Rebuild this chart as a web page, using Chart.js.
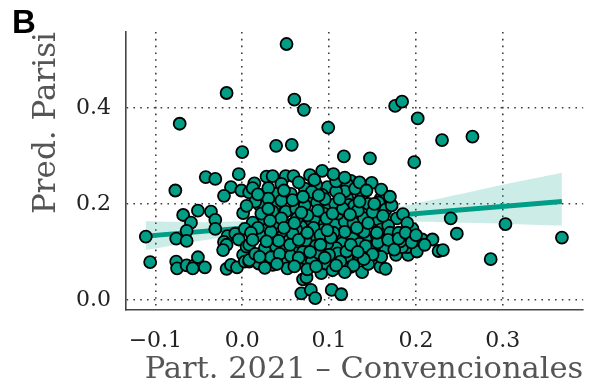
<!DOCTYPE html>
<html>
<head>
<meta charset="utf-8">
<script src="https://cdn.jsdelivr.net/npm/chart.js@4.4.1/dist/chart.umd.min.js"></script>
<style>
  html, body { margin: 0; padding: 0; background: #ffffff; }
  #c { display: block; }
</style>
</head>
<body>
<canvas id="c" width="591" height="389"></canvas>
<script>
// Municipal scatter: 2021 conventional-candidate turnout vs predicted Parisi vote
const partX = [
  // upper scatter
  0.051, -0.018, -0.072, 0.060, 0.071, 0.099, 0.176, 0.184, 0.202, 0.230, 0.265, 0.000, 0.039, 0.057, 0.117, 0.147, 0.198,
  // left group
  -0.042, -0.031, -0.077, -0.004, -0.013, -0.021, -0.001, 0.008,
  -0.068, -0.051, -0.036, -0.059, -0.031, -0.031, 0.001,
  -0.064, -0.111, -0.076, -0.064, -0.017, -0.008, -0.004, -0.021, -0.018, -0.022, 0.001, 0.005,
  -0.106, -0.076, -0.075, -0.064, -0.055, -0.051, -0.057, -0.043, -0.018, -0.013, -0.006, 0.003,
  // lower middle
  0.008, 0.019, 0.026, 0.033, 0.035, 0.054, 0.062, 0.071, 0.070, 0.074, 0.068, 0.079, 0.084, 0.103, 0.114, 0.083, 0.091, 0.100, 0.125, 0.091,
  // lower right
  0.138, 0.159, 0.165, 0.153, 0.177, 0.191, 0.190, 0.201, 0.226, 0.231, 0.286, 0.130, 0.148, 0.173, 0.184,
  // far right
  0.240, 0.247, 0.303, 0.368,
  // core, right half
  0.125, 0.121, 0.149, 0.138, 0.137, 0.121, 0.159, 0.157, 0.123, 0.129, 0.145, 0.114, 0.129, 0.178, 0.185, 0.138,
  0.150, 0.157, 0.121, 0.196, 0.131, 0.161, 0.150, 0.142, 0.171, 0.182, 0.207, 0.219, 0.165, 0.150, 0.127, 0.115,
  // core, left half
  0.028, 0.035, 0.050, 0.059, 0.078, 0.092, 0.014, 0.012, 0.026, 0.041, 0.056, 0.098, 0.092, 0.079, 0.066, 0.020,
  0.037, 0.050, 0.035, 0.024, 0.012, 0.039, 0.054, 0.068, 0.085, 0.100, 0.112, 0.100, 0.020, 0.033, 0.047, 0.054,
  0.068, 0.079, 0.089, 0.100, 0.112, 0.115, 0.008, 0.026, 0.039, 0.050, 0.064, 0.077, 0.092, 0.108, 0.008, 0.033,
  0.047, 0.071, 0.096, 0.106, 0.119,
  // core, packed
  0.062, 0.072, 0.086, 0.094, 0.107, 0.118, 0.108, 0.087, 0.075, 0.063, 0.095, 0.107, 0.118, 0.128, 0.140, 0.133,
  0.145, 0.140, 0.127, 0.118, 0.105, 0.093, 0.083, 0.073, 0.062, 0.060, 0.070, 0.085, 0.098, 0.110, 0.121, 0.135,
  0.143, 0.156, 0.160, 0.168, 0.170, 0.165, 0.172, 0.150, 0.108, 0.085, 0.072, 0.065, 0.045, 0.030, 0.045, 0.030,
  0.015, 0.005, 0.018, 0.003, 0.045, 0.058, 0.042, 0.028, 0.015, 0.043, 0.056, 0.080, 0.113, 0.135, 0.120, 0.100,
  0.088, 0.075, 0.104, 0.052, 0.026, 0.145, 0.160, 0.180, 0.190, 0.130, 0.110, 0.095, 0.080, 0.058,
  0.010, 0.022, 0.032, 0.048, 0.060, 0.068, 0.082, 0.090, 0.097, 0.104, 0.116, 0.124, 0.132, 0.142, 0.150, 0.155,
  0.162, 0.168, 0.175, 0.180, 0.188, 0.195, 0.200, 0.210, 0.140, 0.128, 0.118, 0.108, 0.095, 0.085, 0.065, 0.040,
  0.020, 0.012, 0.055, 0.065, 0.078, 0.090, 0.102, 0.125, 0.133, 0.145, 0.152, 0.135, 0.112, 0.088, 0.070, 0.048,
  0.030, 0.018, 0.105, 0.083, 0.118, 0.135, 0.160, 0.170, 0.143, 0.098, 0.075, 0.060
];
const predY = [
  0.533, 0.431, 0.367, 0.417, 0.396, 0.359, 0.404, 0.413, 0.378, 0.333, 0.340, 0.308, 0.321, 0.323, 0.299, 0.295, 0.287,
  0.256, 0.252, 0.228, 0.262, 0.235, 0.217, 0.228, 0.224,
  0.177, 0.186, 0.184, 0.161, 0.167, 0.148, 0.181,
  0.144, 0.132, 0.128, 0.123, 0.133, 0.138, 0.126, 0.121, 0.115, 0.104, 0.094, 0.111,
  0.079, 0.080, 0.066, 0.072, 0.072, 0.089, 0.066, 0.068, 0.065, 0.073, 0.068, 0.080,
  0.080, 0.076, 0.104, 0.087, 0.073, 0.082, 0.076, 0.080, 0.043, 0.047, 0.014, 0.021, 0.004, 0.021, 0.012, 0.094, 0.076, 0.076, 0.069, 0.056,
  0.058, 0.069, 0.065, 0.094, 0.094, 0.094, 0.110, 0.101, 0.102, 0.104, 0.085, 0.083, 0.111, 0.118, 0.110,
  0.170, 0.138, 0.158, 0.130,
  0.248, 0.240, 0.244, 0.226, 0.215, 0.212, 0.210, 0.203, 0.198, 0.196, 0.188, 0.188, 0.174, 0.170, 0.179, 0.156,
  0.163, 0.167, 0.149, 0.148, 0.139, 0.134, 0.128, 0.127, 0.125, 0.122, 0.126, 0.126, 0.108, 0.111, 0.104, 0.115,
  0.257, 0.258, 0.258, 0.258, 0.260, 0.269, 0.243, 0.233, 0.220, 0.222, 0.221, 0.235, 0.219, 0.212, 0.208, 0.198,
  0.194, 0.184, 0.184, 0.170, 0.161, 0.161, 0.156, 0.153, 0.167, 0.191, 0.170, 0.153, 0.135, 0.142, 0.135, 0.124,
  0.135, 0.142, 0.128, 0.125, 0.135, 0.118, 0.115, 0.108, 0.111, 0.104, 0.111, 0.115, 0.104, 0.108, 0.083, 0.089,
  0.083, 0.087, 0.076, 0.090, 0.069,
  0.190, 0.197, 0.203, 0.180, 0.200, 0.226, 0.226, 0.186, 0.176, 0.170, 0.160, 0.157, 0.163, 0.160, 0.170, 0.186,
  0.200, 0.142, 0.128, 0.142, 0.140, 0.146, 0.128, 0.124, 0.147, 0.098, 0.100, 0.113, 0.118, 0.097, 0.092, 0.117,
  0.098, 0.120, 0.147, 0.155, 0.140, 0.188, 0.197, 0.183, 0.247, 0.240, 0.232, 0.245, 0.242, 0.233, 0.207, 0.211,
  0.205, 0.196, 0.150, 0.148, 0.170, 0.138, 0.123, 0.122, 0.096, 0.096, 0.092, 0.080, 0.080, 0.090, 0.101, 0.094,
  0.098, 0.064, 0.062, 0.066, 0.067, 0.075, 0.090, 0.140, 0.160, 0.232, 0.180, 0.210, 0.225, 0.208,
  0.140, 0.180, 0.165, 0.150, 0.160, 0.182, 0.150, 0.135, 0.170, 0.180, 0.190, 0.178, 0.150, 0.112, 0.095, 0.140,
  0.175, 0.125, 0.105, 0.128, 0.140, 0.120, 0.135, 0.115, 0.085, 0.072, 0.058, 0.072, 0.088, 0.070, 0.088, 0.075,
  0.090, 0.125, 0.115, 0.125, 0.100, 0.115, 0.130, 0.115, 0.100, 0.160, 0.200, 0.205, 0.210, 0.218, 0.215, 0.228,
  0.190, 0.220, 0.262, 0.250, 0.255, 0.245, 0.230, 0.215, 0.228, 0.145, 0.140, 0.070
];

// Linear fit and its confidence band
const fitX = [-0.111, 0.368];
const fitY = [0.133, 0.205];
const bandX = [-0.111, -0.05, 0.0, 0.05, 0.09, 0.15, 0.2, 0.25, 0.3, 0.368];
const bandUpper = [0.164, 0.162, 0.164, 0.166, 0.171, 0.184, 0.201, 0.220, 0.240, 0.265];
const bandLower = [0.104, 0.123, 0.136, 0.148, 0.156, 0.161, 0.163, 0.161, 0.159, 0.155];

// Axis ticks
const xTicks = [-0.1, 0.0, 0.1, 0.2, 0.3];
const xTickLabels = ['\u22120.1', '0.0', '0.1', '0.2', '0.3'];
const yTicks = [0.0, 0.2, 0.4];
const yTickLabels = ['0.0', '0.2', '0.4'];

const TEAL = '#009e87';
const SERIF = '"DejaVu Serif", "Liberation Serif", serif';

const toXY = (xs, ys) => xs.map((x, i) => ({ x: x, y: ys[i] }));

const panelLetter = {
  id: 'panelLetter',
  afterDraw(chart) {
    const ctx = chart.ctx;
    ctx.save();
    ctx.font = 'bold 33px "Liberation Sans", Arial, sans-serif';
    ctx.fillStyle = '#000';
    ctx.textBaseline = 'alphabetic';
    ctx.textAlign = 'left';
    ctx.fillText('B', 12, 33);
    ctx.restore();
  }
};

new Chart(document.getElementById('c'), {
  type: 'scatter',
  data: {
    datasets: [
      {
        label: 'Municipios',
        data: toXY(partX, predY),
        order: 0,
        pointRadius: 6,
        pointBorderWidth: 1.8,
        pointBackgroundColor: TEAL,
        pointBorderColor: '#000',
        showLine: false
      },
      {
        label: 'Ajuste',
        type: 'line',
        data: toXY(fitX, fitY),
        order: 1,
        showLine: true,
        borderColor: TEAL,
        borderWidth: 5,
        pointRadius: 0,
        fill: false
      },
      {
        label: 'IC superior',
        type: 'line',
        data: toXY(bandX, bandUpper),
        order: 2,
        showLine: true,
        borderWidth: 0,
        borderColor: 'rgba(0,0,0,0)',
        pointRadius: 0,
        backgroundColor: 'rgba(0,158,135,0.2)',
        fill: '+1',
        tension: 0.3
      },
      {
        label: 'IC inferior',
        type: 'line',
        data: toXY(bandX, bandLower),
        order: 3,
        showLine: true,
        borderWidth: 0,
        borderColor: 'rgba(0,0,0,0)',
        pointRadius: 0,
        fill: false,
        tension: 0.3
      }
    ]
  },
  options: {
    responsive: false,
    animation: false,
    devicePixelRatio: 1,
    layout: { padding: { top: 32, right: 6, left: 0, bottom: 0 } },
    plugins: { legend: { display: false }, tooltip: { enabled: false } },
    scales: {
      x: {
        type: 'linear',
        min: -0.1338,
        max: 0.3925,
        afterBuildTicks: s => { s.ticks = xTicks.map(v => ({ value: v })); },
        afterFit: s => { s.height = 79; },
        grid: { display: true, color: '#3c3c3c', lineWidth: 1.6, drawTicks: false },
        border: { display: true, color: '#444', width: 1.6, dash: [1.6, 5.2] },
        ticks: {
          padding: 18,
          color: '#222',
          font: { family: SERIF, size: 22 },
          maxRotation: 0,
          callback: (v, i) => xTickLabels[i]
        },
        title: {
          display: true,
          text: 'Part. 2021 \u2013 Convencionales',
          align: 'end',
          color: '#555',
          font: { family: SERIF, size: 30.5 },
          padding: { top: 0, bottom: 1 }
        }
      },
      y: {
        type: 'linear',
        min: -0.0208,
        max: 0.558,
        afterBuildTicks: s => { s.ticks = yTicks.map(v => ({ value: v })); },
        afterFit: s => { s.width = 126; },
        grid: { display: true, color: '#3c3c3c', lineWidth: 1.6, drawTicks: false },
        border: { display: true, color: '#444', width: 1.6, dash: [1.6, 5.2] },
        ticks: {
          padding: 15,
          color: '#222',
          font: { family: SERIF, size: 22 },
          callback: (v, i) => yTickLabels[i]
        },
        title: {
          display: true,
          text: 'Pred. Parisi',
          align: 'end',
          color: '#555',
          font: { family: SERIF, size: 31 },
          padding: { top: 28, bottom: 0 }
        }
      }
    }
  },
  plugins: [panelLetter]
});
</script>
</body>
</html>
